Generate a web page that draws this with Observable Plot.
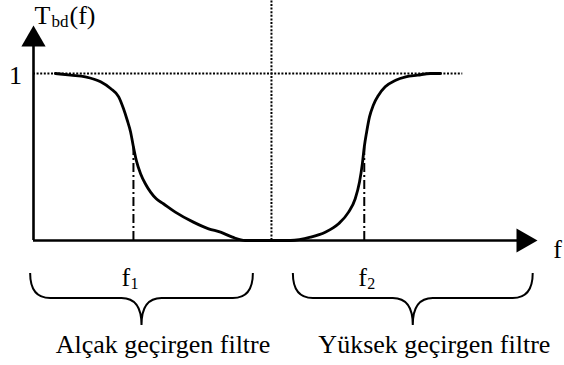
<!DOCTYPE html>
<html>
<head>
<meta charset="utf-8">
<script src="https://cdn.jsdelivr.net/npm/d3@7"></script>
<script src="https://cdn.jsdelivr.net/npm/@observablehq/plot@0.6"></script>
<style>
  body { margin: 0; background: #fff; }
  #chart svg { display: block; }
</style>
</head>
<body>
<div id="chart"></div>
<script>
// Band-stop response T_bd(f): a low-pass branch below the notch and a high-pass branch above it
const freq = [0.46, 0.78, 1.09, 1.41, 1.62, 1.79, 1.89, 1.97, 2.04, 2.10, 2.16, 2.25, 2.35, 2.46, 2.58, 2.73, 2.98, 3.36, 3.68, 3.93, 4.18, 4.45, 4.75,
              4.98, 5.40, 5.82, 6.13, 6.41, 6.62, 6.76, 6.85, 6.91, 6.95, 7.00, 7.06, 7.14, 7.25, 7.39, 7.61, 7.82, 8.07, 8.34, 8.55];
const gain = [1.00, 0.99, 0.98, 0.95, 0.91, 0.86, 0.79, 0.72, 0.65, 0.56, 0.48, 0.40, 0.34, 0.29, 0.25, 0.22, 0.17, 0.11, 0.07, 0.05, 0.02, 0.00, 0.00,
              0.00, 0.00, 0.02, 0.05, 0.10, 0.17, 0.25, 0.35, 0.46, 0.56, 0.65, 0.74, 0.81, 0.87, 0.92, 0.96, 0.98, 0.99, 1.00, 1.00];

// cut-off frequencies f1, f2
const cutoffIndex = ["1", "2"];
const cutoffFreq = [2.10, 6.95];
const cutoffGain = [0.56, 0.56];

// notch centre and pass level
const centerFreq = 5.0;
const passLevel = 1;
const passEnd = 9.02;

// braces under the frequency axis
const bandNames = ["Alçak geçirgen filtre", "Yüksek geçirgen filtre"];
const bandStart = [-0.06, 5.46];
const bandEnd = [4.62, 10.50];

// axis extents
const fMax = 10.59;
const tTip = 1.287;
const tTop = 1.437;

const curve = freq.map((f, i) => ({f, t: gain[i]}));
const cutoffs = cutoffFreq.map((f, i) => ({f, t: cutoffGain[i], k: cutoffIndex[i]}));
const bands = bandNames.map((name, i) => ({name, x1: bandStart[i], x2: bandEnd[i]}));

const serif = "Liberation Serif";
const ink = "black";

function braces(index, scales) {
  const g = d3.create("svg:g")
    .attr("fill", "none")
    .attr("stroke", ink)
    .attr("stroke-width", 2);
  const y0 = scales.y(0);
  const yEnd = y0 + 33, yArm = y0 + 58, yTip = y0 + 85, q = 20;
  for (const b of bands) {
    const x1 = scales.x(b.x1), x2 = scales.x(b.x2), m = (x1 + x2) / 2;
    g.append("path").attr("d",
      `M${x1},${yEnd}Q${x1},${yArm} ${x1 + q},${yArm}L${m - q},${yArm}` +
      `Q${m},${yArm} ${m},${yTip}Q${m},${yArm} ${m + q},${yArm}` +
      `L${x2 - q},${yArm}Q${x2},${yArm} ${x2},${yEnd}`);
  }
  return g.node();
}

const label = (data, options) =>
  Plot.text(data, {fontFamily: serif, fill: ink, lineAnchor: "bottom", ...options});

const chart = Plot.plot({
  width: 564,
  height: 365,
  marginLeft: 33,
  marginRight: 27,
  marginTop: 0,
  marginBottom: 125,
  x: {domain: [0, fMax], axis: null},
  y: {domain: [0, tTop], axis: null},
  style: {fontFamily: serif, background: "white", overflow: "visible"},
  marks: [
    // reference guides
    Plot.ruleY([passLevel], {x1: 0, x2: passEnd, stroke: ink, strokeWidth: 2, strokeDasharray: "2,1.6"}),
    Plot.ruleX([centerFreq], {y1: 0, y2: tTop, stroke: ink, strokeWidth: 2, strokeDasharray: "2,1.6"}),
    // cut-off markers
    Plot.ruleX(cutoffs, {x: "f", y1: 0, y2: "t", stroke: ink, strokeWidth: 2, strokeDasharray: "9,3,2,3"}),
    // response curve
    Plot.line(curve, {x: "f", y: "t", curve: "monotone-x", stroke: ink, strokeWidth: 2.8}),
    // axes with arrowheads
    Plot.ruleX([0], {y1: 0, y2: tTip - 0.06, stroke: ink, strokeWidth: 2.6}),
    Plot.ruleY([0], {x1: 0, x2: fMax - 0.2, stroke: ink, strokeWidth: 2.6}),
    Plot.dot([{f: 0, t: tTip}], {x: "f", y: "t", symbol: "triangle", r: 9, fill: ink, stroke: "none", dy: 14}),
    Plot.dot([{f: fMax, t: 0}], {x: "f", y: "t", symbol: "triangle", r: 9, fill: ink, stroke: "none", rotate: 90, dx: -14}),
    // axis labels
    label([passLevel], {x: 0, y: d => d, text: d => String(d), dx: -18, dy: 11, fontSize: 26}),
    label(["f"], {x: fMax, y: 0, text: d => d, dx: 20, dy: 17, fontSize: 26}),
    label(["T"], {x: 0, y: tTop, text: d => d, dx: 1, dy: 23, textAnchor: "start", fontSize: 26}),
    label(["bd"], {x: 0, y: tTop, text: d => d, dx: 18, dy: 26, textAnchor: "start", fontSize: 17}),
    label(["(f)"], {x: 0, y: tTop, text: d => d, dx: 36, dy: 23, textAnchor: "start", fontSize: 26}),
    // cut-off labels f1, f2
    label(cutoffs.slice(0, 1), {x: "f", y: 0, text: () => "f", dx: -12, dy: 45, textAnchor: "start", fontSize: 26}),
    label(cutoffs.slice(0, 1), {x: "f", y: 0, text: "k", dx: -3, dy: 48, textAnchor: "start", fontSize: 16}),
    label(cutoffs.slice(1), {x: "f", y: 0, text: () => "f", dx: -6, dy: 45, textAnchor: "start", fontSize: 26}),
    label(cutoffs.slice(1), {x: "f", y: 0, text: "k", dx: 3, dy: 48, textAnchor: "start", fontSize: 16}),
    braces,
    // band names
    label(bands, {x: "x1", y: 0, text: "name", dx: 25, dy: 112, textAnchor: "start", fontSize: 26})
  ]
});

document.getElementById("chart").appendChild(chart);
</script>
</body>
</html>
